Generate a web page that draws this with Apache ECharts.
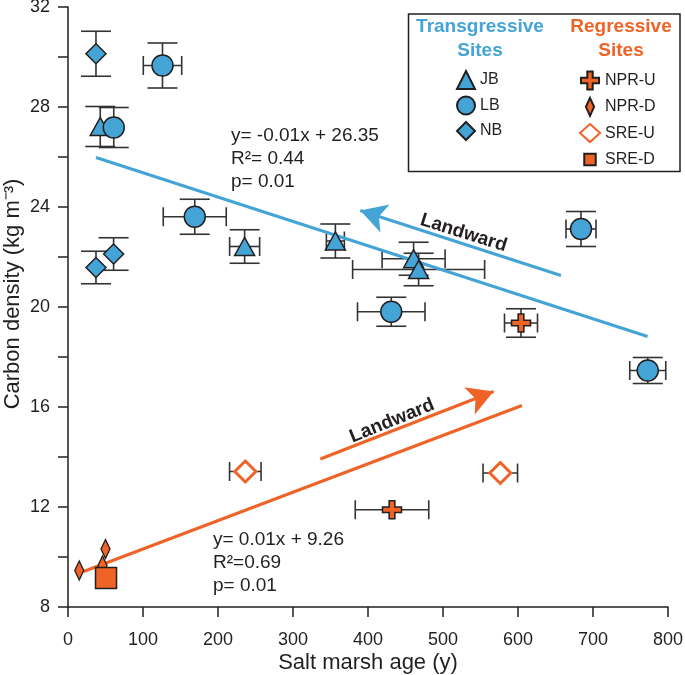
<!DOCTYPE html>
<html>
<head>
<meta charset="utf-8">
<script src="https://cdn.jsdelivr.net/npm/echarts@6/dist/echarts.min.js"></script>
<style>
  html, body { margin: 0; padding: 0; background: #fff; }
  #main { width: 685px; height: 675px; }
</style>
</head>
<body>
<div id="main"></div>
<script>
// each point: [age, density, age error, density error]
var jbData = [[43, 27.22, 0, 0.8], [235.5, 22.42, 20, 0.67], [356.5, 22.64, 12, 0.68], [460.8, 21.93, 42, 0.66], [467.5, 21.5, 88, 0.65]];
var lbData = [[126, 29.66, 25.6, 0.9], [61, 27.18, 0, 0.8], [169, 23.61, 42, 0.7], [431, 19.81, 45, 0.58], [684, 23.12, 20, 0.7], [773, 17.46, 24, 0.52]];
var nbData = [[37.3, 30.13, 0, 0.9], [37.3, 21.58, 0, 0.65], [60.8, 22.12, 0, 0.65]];
var nprUData = [[604, 19.36, 22, 0.57], [432, 11.89, 49, 0]];
var nprDData = [[15, 9.46, 0, 0], [50, 10.32, 0, 0], [46, 9.66, 0, 0]];
var sreUData = [[236.4, 13.42, 21, 0], [576.4, 13.36, 23, 0]];
var sreDData = [[50.7, 9.16, 0, 0]];

// regression lines and "Landward" arrows
var transFit = [[37.3, 25.98], [772.8, 18.82]];
var regFit = [[20.8, 9.42], [605.3, 16.06]];
var transArrow = [[657.3, 21.26], [389.7, 23.86]];
var regArrow = [[336.4, 13.92], [567.5, 16.62]];

var transText = 'y= -0.01x + 26.35\nR\u00b2= 0.44\np= 0.01';
var regText = 'y= 0.01x + 9.26\nR\u00b2=0.69\np= 0.01';

var blue = '#44a4d6';
var orange = '#ef6327';
var dark = '#231f20';
var font = 'Liberation Sans, Arial, sans-serif';

var plusPath = 'path://M7,0H13V7H20V13H13V20H7V13H0V7H7Z';
var thinDiamond = 'path://M5,0L10,11L5,22L0,11Z';
var smallSquare = 'path://M0,0M22,22M4,4H18V18H4Z';

var myChart = echarts.init(document.getElementById('main'));

function errorBars(params, api) {
  var x = api.value(0), y = api.value(1), ex = api.value(2), ey = api.value(3);
  var c = api.coord([x, y]);
  var st = { stroke: '#333', lineWidth: 1.6 };
  var kids = [];
  if (ey > 0) {
    var t = api.coord([x, y + ey]), b = api.coord([x, y - ey]);
    kids.push({ type: 'line', shape: { x1: c[0], y1: t[1], x2: c[0], y2: b[1] }, style: st });
    kids.push({ type: 'line', shape: { x1: c[0] - 15, y1: t[1], x2: c[0] + 15, y2: t[1] }, style: st });
    kids.push({ type: 'line', shape: { x1: c[0] - 15, y1: b[1], x2: c[0] + 15, y2: b[1] }, style: st });
  }
  if (ex > 0) {
    var l = api.coord([x - ex, y]), r = api.coord([x + ex, y]);
    kids.push({ type: 'line', shape: { x1: l[0], y1: c[1], x2: r[0], y2: c[1] }, style: st });
    kids.push({ type: 'line', shape: { x1: l[0], y1: c[1] - 9.5, x2: l[0], y2: c[1] + 9.5 }, style: st });
    kids.push({ type: 'line', shape: { x1: r[0], y1: c[1] - 9.5, x2: r[0], y2: c[1] + 9.5 }, style: st });
  }
  return { type: 'group', children: kids };
}

function pts(name, data, symbol, size, style) {
  return {
    name: name, type: 'scatter', data: data, symbol: symbol, symbolSize: size,
    itemStyle: style, z: 5, silent: true
  };
}

function fitLine(data, arrow, color) {
  return {
    type: 'line', data: data, showSymbol: false, silent: true, z: 3,
    lineStyle: { color: color, width: 3 },
    markLine: {
      silent: true, symbol: ['none', 'arrow'], symbolSize: [22, 26],
      label: { show: false },
      lineStyle: { color: color, width: 3, type: 'solid' },
      data: [[{ coord: arrow[0] }, { coord: arrow[1] }]]
    }
  };
}

var blueStyle = { color: blue, borderColor: dark, borderWidth: 1.5, opacity: 1 };
var orangeStyle = { color: orange, borderColor: dark, borderWidth: 1.5, opacity: 1 };

var option = {
  animation: false,
  grid: { left: 68, right: 17, top: 7, bottom: 68, containLabel: false, outerBoundsMode: 'none' },
  xAxis: {
    type: 'value', min: 0, max: 800, interval: 100,
    name: 'Salt marsh age (y)', nameLocation: 'middle', nameGap: 45, nameMoveOverlap: false,
    nameTextStyle: { fontFamily: font, fontSize: 22, color: dark },
    axisLine: { lineStyle: { color: dark, width: 1.5 } },
    axisTick: { length: 10, lineStyle: { color: dark, width: 1.5 } },
    axisLabel: { fontFamily: font, fontSize: 18, color: dark, margin: 24 },
    splitLine: { show: false }
  },
  yAxis: {
    type: 'value', min: 8, max: 32, interval: 2,
    name: 'Carbon density (kg m\u207b\u00b3)', nameLocation: 'middle', nameGap: 44, nameMoveOverlap: false,
    nameTextStyle: { fontFamily: font, fontSize: 22, color: dark, padding: [0, 0, 0, 26] },
    axisLine: { lineStyle: { color: dark, width: 1.5 } },
    axisTick: { length: 10, lineStyle: { color: dark, width: 1.5 } },
    axisLabel: {
      fontFamily: font, fontSize: 18, color: dark, margin: 18,
      formatter: function (v) { return v % 4 === 0 ? String(v) : ''; }
    },
    splitLine: { show: false }
  },
  legend: [
    {
      orient: 'vertical', left: 456, top: 70, padding: 0, itemWidth: 18, itemHeight: 18, itemGap: 5.5,
      textStyle: { fontFamily: font, fontSize: 16, color: dark },
      data: [{ name: 'JB', icon: 'triangle' }, { name: 'LB', icon: 'circle' }, { name: 'NB', icon: 'diamond' }]
    },
    {
      orient: 'vertical', left: 579, top: 70.5, padding: 0, itemWidth: 20, itemHeight: 18, itemGap: 6.3,
      textStyle: { fontFamily: font, fontSize: 16, color: dark },
      data: [{ name: 'NPR-U', icon: plusPath }, { name: 'NPR-D', icon: thinDiamond },
             { name: 'SRE-U', icon: 'diamond' }, { name: 'SRE-D', icon: smallSquare }]
    }
  ],
  graphic: [
    { type: 'rect', shape: { x: 408.5, y: 14, width: 271.5, height: 157.5 }, style: { fill: 'none', stroke: dark, lineWidth: 1.5 }, silent: true },
    { type: 'text', x: 480, y: 27, style: { text: 'Transgressive', fill: blue, font: 'bold 19px ' + font, textAlign: 'center', textVerticalAlign: 'middle' } },
    { type: 'text', x: 480, y: 50.5, style: { text: 'Sites', fill: blue, font: 'bold 19px ' + font, textAlign: 'center', textVerticalAlign: 'middle' } },
    { type: 'text', x: 621, y: 27, style: { text: 'Regressive', fill: orange, font: 'bold 19px ' + font, textAlign: 'center', textVerticalAlign: 'middle' } },
    { type: 'text', x: 621, y: 50.5, style: { text: 'Sites', fill: orange, font: 'bold 19px ' + font, textAlign: 'center', textVerticalAlign: 'middle' } },
    { type: 'text', x: 231, y: 124, style: { text: transText, fill: dark, font: '19px ' + font, lineHeight: 23 } },
    { type: 'text', x: 213, y: 528.5, style: { text: regText, fill: dark, font: '19px ' + font, lineHeight: 23 } },
    { type: 'text', x: 463.5, y: 233, rotation: -0.305, style: { text: 'Landward', fill: dark, font: 'bold 19px ' + font, textAlign: 'center', textVerticalAlign: 'middle' } },
    { type: 'text', x: 392, y: 421, rotation: 0.385, style: { text: 'Landward', fill: dark, font: 'bold 19px ' + font, textAlign: 'center', textVerticalAlign: 'middle' } }
  ],
  series: [
    {
      type: 'custom', renderItem: errorBars, silent: true, z: 2,
      data: [].concat(jbData, lbData, nbData, nprUData, nprDData, sreUData, sreDData)
    },
    fitLine(transFit, transArrow, blue),
    fitLine(regFit, regArrow, orange),
    pts('JB', jbData, 'triangle', [20, 18], blueStyle),
    pts('LB', lbData, 'circle', 21, blueStyle),
    pts('NB', nbData, 'diamond', 20, blueStyle),
    pts('NPR-U', nprUData, plusPath, [19, 18], orangeStyle),
    pts('NPR-D', nprDData, 'diamond', [9, 19], orangeStyle),
    pts('SRE-U', sreUData, 'diamond', 21, { color: '#fff', borderColor: orange, borderWidth: 3, opacity: 1 }),
    pts('SRE-D', sreDData, 'rect', 21, orangeStyle)
  ]
};

myChart.setOption(option);
</script>
</body>
</html>
